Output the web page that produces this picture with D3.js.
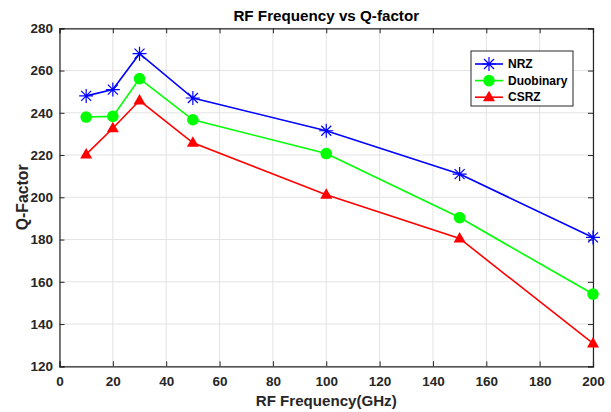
<!DOCTYPE html>
<html><head><meta charset="utf-8">
<script src="https://cdn.jsdelivr.net/npm/d3@7"></script>
<style>body{margin:0;background:#fff}svg{display:block}text{font-family:"Liberation Sans",Arial,sans-serif;font-weight:bold}</style>
</head><body><svg id="c" width="611" height="412"></svg>
<script>
const freq = [10, 20, 30, 50, 100, 150, 200];
const nrz = [248, 251, 268, 247, 231.5, 211, 181];
const duobinary = [238, 238.3, 256.2, 236.7, 220.7, 190.4, 154.2];
const csrz = [220.3, 232.7, 245.8, 225.8, 201.2, 180.5, 130.8];
const xTicks = [0,20,40,60,80,100,120,140,160,180,200];
const yTicks = [120,140,160,180,200,220,240,260,280];
const seriesNames = ["NRZ","Duobinary","CSRZ"];
const seriesColors = ["#0000ff","#00ff00","#ff0000"];
const seriesMarkers = ["asterisk","circle","triangle"];

const svg = d3.select("#c");
const L=59.5,R=593,T=28.3,B=366.3;
const x = d3.scaleLinear().domain([0,200]).range([L,R]);
const y = d3.scaleLinear().domain([120,280]).range([B,T]);

// grid
const g = svg.append("g");
g.selectAll(".gx").data(xTicks).enter().append("line")
 .attr("x1",d=>x(d)).attr("x2",d=>x(d)).attr("y1",T).attr("y2",B)
 .attr("stroke","#e3e3e3").attr("stroke-width",1);
g.selectAll(".gy").data(yTicks).enter().append("line")
 .attr("y1",d=>y(d)).attr("y2",d=>y(d)).attr("x1",L).attr("x2",R)
 .attr("stroke","#e3e3e3").attr("stroke-width",1);

// axes
const ax = svg.append("g").attr("transform",`translate(0,${B})`)
 .call(d3.axisBottom(x).tickValues(xTicks).tickSize(-5).tickPadding(10.5));
const axT = svg.append("g").attr("transform",`translate(0,${T})`)
 .call(d3.axisTop(x).tickValues(xTicks).tickSize(-5).tickFormat(""));
const ay = svg.append("g").attr("transform",`translate(${L},0)`)
 .call(d3.axisLeft(y).tickValues(yTicks).tickSize(-5).tickPadding(6));
const ayR = svg.append("g").attr("transform",`translate(${R},0)`)
 .call(d3.axisRight(y).tickValues(yTicks).tickSize(-5).tickFormat(""));
[ax,axT,ay,ayR].forEach(a=>{
  a.select(".domain").attr("stroke","#262626").attr("stroke-width",1.2);
  a.selectAll(".tick line").attr("stroke","#262626");
  a.selectAll("text").attr("fill","#262626").style("font-size","13.5px").style("font-weight","bold");
});
ax.selectAll("text").attr("dy","0.71em");
ay.selectAll("text").attr("x",-6.5);

// series
const data = [nrz,duobinary,csrz];
const line = d3.line().x((d,i)=>x(freq[i])).y(d=>y(d));
function marker(sel, type, color){
  if(type==="asterisk"){
    const r=7, rd=5;
    const p = `M${-r},0L${r},0M0,${-r}L0,${r}M${-rd},${-rd}L${rd},${rd}M${-rd},${rd}L${rd},${-rd}`;
    sel.append("path").attr("d",p).attr("stroke",color).attr("stroke-width",1.2).attr("fill","none");
  } else if(type==="circle"){
    sel.append("circle").attr("r",5.8).attr("fill",color);
  } else {
    sel.append("path").attr("d","M0,-6.5L6,4L-6,4Z").attr("fill",color);
  }
}
data.forEach((vals,si)=>{
  svg.append("path").datum(vals).attr("d",line).attr("fill","none")
    .attr("stroke",seriesColors[si]).attr("stroke-width",1.6);
  vals.forEach((v,i)=>{
    const m = svg.append("g").attr("transform",`translate(${x(freq[i])},${y(v)})`);
    marker(m, seriesMarkers[si], seriesColors[si]);
  });
});

// legend
const lg = svg.append("g");
lg.append("rect").attr("x",471).attr("y",51).attr("width",102).attr("height",55)
  .attr("fill","#fff").attr("stroke","#262626").attr("stroke-width",1);
seriesNames.forEach((n,i)=>{
  const yy = 64 + i*16.6;
  lg.append("line").attr("x1",475).attr("x2",503).attr("y1",yy).attr("y2",yy)
    .attr("stroke",seriesColors[i]).attr("stroke-width",1.6);
  const m = lg.append("g").attr("transform",`translate(489,${yy})`);
  marker(m, seriesMarkers[i], seriesColors[i]);
  lg.append("text").attr("x",508).attr("y",yy).attr("dy","0.35em")
    .style("font-size","12px").attr("fill","#000").text(n);
});

// titles
svg.append("text").attr("x",(L+R)/2).attr("y",21).attr("text-anchor","middle")
  .style("font-size","15.2px").attr("fill","#000").text("RF Frequency vs Q-factor");
svg.append("text").attr("x",(L+R)/2).attr("y",406).attr("text-anchor","middle")
  .style("font-size","15.1px").attr("fill","#262626").text("RF Frequency(GHz)");
svg.append("text").attr("transform",`translate(27.5,${(T+B)/2}) rotate(-90)`)
  .attr("text-anchor","middle").style("font-size","15.8px").attr("fill","#262626").text("Q-Factor");
</script></body></html>
